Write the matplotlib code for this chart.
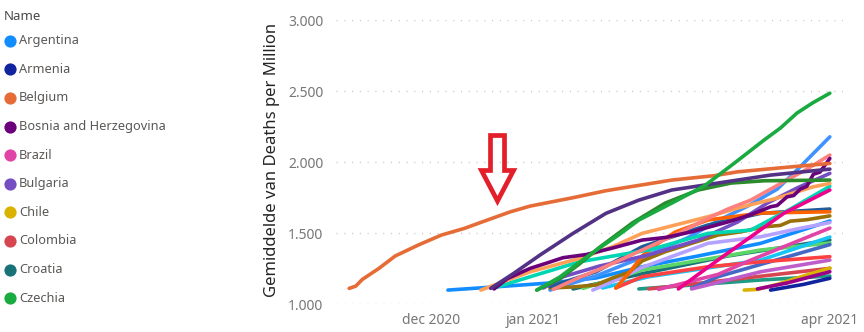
import matplotlib
matplotlib.use("Agg")
import matplotlib.pyplot as plt
import pandas as pd
from matplotlib.patches import Polygon
from matplotlib.lines import Line2D
from matplotlib.ticker import FuncFormatter

plt.rcParams['font.family'] = ['Noto Sans', 'DejaVu Sans']

# ---------------- data ----------------
argentina_d = ["2020-12-06", "2020-12-20", "2021-01-06", "2021-01-20", "2021-02-03", "2021-02-20", "2021-03-11", "2021-03-22", "2021-04-01"]
argentina_v = [1100, 1122, 1150, 1185, 1264, 1340, 1429, 1510, 1586]

armenia_d = ["2021-03-14", "2021-03-24", "2021-04-01"]
armenia_v = [1100, 1140, 1183]

belgium_d = ["2020-11-06", "2020-11-08", "2020-11-10", "2020-11-15", "2020-11-20", "2020-11-27", "2020-12-04", "2020-12-11",
             "2020-12-18", "2020-12-25", "2020-12-31", "2021-01-13", "2021-01-23", "2021-02-12", "2021-02-25", "2021-03-04",
             "2021-03-18", "2021-04-01"]
belgium_v = [1112, 1128, 1175, 1252, 1340, 1417, 1487, 1534, 1593, 1651, 1691, 1750, 1799, 1874, 1905, 1932, 1962, 1991]

bosnia_d = ["2020-12-20", "2020-12-24", "2020-12-31", "2021-01-05", "2021-01-10", "2021-01-17", "2021-01-25", "2021-02-03",
            "2021-02-10", "2021-02-18", "2021-03-01", "2021-03-08", "2021-03-14", "2021-03-16", "2021-03-19", "2021-03-21",
            "2021-03-23", "2021-03-25", "2021-03-27", "2021-03-29", "2021-04-01"]
bosnia_v = [1108, 1180, 1253, 1290, 1328, 1350, 1396, 1452, 1470, 1510, 1579, 1630, 1686, 1695, 1756, 1765, 1810, 1830,
            1915, 1930, 2026]

brazil_d = ["2021-02-08", "2021-02-26", "2021-03-08", "2021-03-18", "2021-04-01"]
brazil_v = [1105, 1210, 1311, 1405, 1536]

bulgaria_d = ["2021-01-04", "2021-01-10", "2021-01-21", "2021-02-05", "2021-02-20", "2021-03-04", "2021-03-13", "2021-03-22", "2021-04-01"]
bulgaria_v = [1115, 1194, 1269, 1347, 1452, 1579, 1712, 1818, 1921]

chile_d = ["2021-03-06", "2021-03-10", "2021-03-16", "2021-03-24", "2021-04-01"]
chile_v = [1100, 1105, 1140, 1199, 1255]

colombia_d = ["2021-02-05", "2021-03-01", "2021-04-01"]
colombia_v = [1108, 1171, 1253]

croatia_d = ["2021-01-13", "2021-02-03", "2021-03-01", "2021-04-01"]
croatia_v = [1108, 1215, 1340, 1452]

czechia_d = ["2021-01-02", "2021-01-09", "2021-01-15", "2021-01-21", "2021-01-27", "2021-02-02", "2021-02-12", "2021-02-22",
             "2021-03-03", "2021-03-12", "2021-03-17", "2021-03-22", "2021-03-27", "2021-04-01"]
czechia_v = [1100, 1192, 1297, 1396, 1490, 1593, 1712, 1835, 1993, 2155, 2240, 2345, 2420, 2485]

# further series (beyond the visible part of the legend)
uk_d = ["2020-12-19", "2020-12-26", "2021-01-03", "2021-01-13", "2021-01-23", "2021-02-02", "2021-02-12", "2021-02-22",
        "2021-03-04", "2021-03-14", "2021-04-01"]
uk_v = [1112, 1218, 1347, 1499, 1640, 1733, 1804, 1839, 1874, 1909, 1951]

liechtenstein_d = ["2021-01-02", "2021-01-09", "2021-01-15", "2021-01-21", "2021-01-31", "2021-02-10", "2021-02-20", "2021-03-02",
                   "2021-03-12", "2021-04-01"]
liechtenstein_v = [1100, 1180, 1285, 1400, 1572, 1712, 1804, 1853, 1869, 1874]

hungary_d = ["2021-01-06", "2021-01-20", "2021-02-03", "2021-02-17", "2021-02-27", "2021-03-07", "2021-03-16", "2021-03-22", "2021-04-01"]
hungary_v = [1100, 1200, 1330, 1470, 1600, 1690, 1810, 1944, 2178]

montenegro_d = ["2021-01-07", "2021-01-15", "2021-01-21", "2021-02-03", "2021-02-14", "2021-02-24", "2021-03-01", "2021-03-08",
                "2021-03-18", "2021-03-25", "2021-04-01"]
montenegro_v = [1105, 1190, 1246, 1382, 1500, 1616, 1670, 1733, 1862, 1950, 2050]

macedonia_d = ["2020-12-20", "2020-12-31", "2021-01-15", "2021-01-30", "2021-02-05", "2021-02-23", "2021-03-08", "2021-03-20", "2021-04-01"]
macedonia_v = [1115, 1194, 1299, 1359, 1382, 1499, 1522, 1670, 1830]

slovakia_d = ["2021-02-14", "2021-02-20", "2021-02-26", "2021-03-08", "2021-03-18", "2021-04-01"]
slovakia_v = [1108, 1210, 1311, 1475, 1640, 1804]

italy_d = ["2020-12-16", "2020-12-31", "2021-01-15", "2021-01-25", "2021-02-03", "2021-02-23", "2021-03-04", "2021-03-16",
           "2021-03-27", "2021-04-01"]
italy_v = [1100, 1229, 1323, 1405, 1499, 1616, 1677, 1747, 1827, 1850]

portugal_d = ["2021-01-26", "2021-01-30", "2021-02-03", "2021-02-08", "2021-02-13", "2021-02-23", "2021-03-11", "2021-04-01"]
portugal_v = [1115, 1220, 1340, 1431, 1508, 1593, 1642, 1651]

us_d = ["2021-01-06", "2021-01-20", "2021-02-03", "2021-02-23", "2021-03-11", "2021-04-01"]
us_v = [1124, 1229, 1405, 1558, 1640, 1670]

spain_d = ["2021-01-06", "2021-01-13", "2021-01-20", "2021-01-25", "2021-01-30", "2021-02-03", "2021-02-10", "2021-02-18",
           "2021-02-26", "2021-03-05", "2021-03-12", "2021-03-17", "2021-03-20", "2021-03-25", "2021-04-01"]
spain_v = [1115, 1122, 1136, 1185, 1225, 1305, 1370, 1429, 1487, 1510, 1545, 1555, 1585, 1595, 1622]

mexico_d = ["2021-01-19", "2021-01-27", "2021-02-03", "2021-02-23", "2021-03-11", "2021-03-22", "2021-04-01"]
mexico_v = [1100, 1180, 1260, 1429, 1475, 1530, 1575]

peru_d = ["2021-01-16", "2021-02-03", "2021-03-11", "2021-04-01"]
peru_v = [1112, 1241, 1382, 1431]

poland_d = ["2021-01-22", "2021-02-05", "2021-03-11", "2021-04-01"]
poland_v = [1115, 1194, 1311, 1473]

lithuania_d = ["2021-01-26", "2021-02-03", "2021-02-23", "2021-03-11", "2021-04-01"]
lithuania_v = [1115, 1194, 1264, 1299, 1335]

panama_d = ["2021-02-18", "2021-02-23", "2021-03-11", "2021-04-01"]
panama_v = [1108, 1136, 1229, 1311]

romania_d = ["2021-02-18", "2021-02-26", "2021-04-01"]
romania_v = [1112, 1194, 1420]

sweden_d = ["2021-02-02", "2021-03-11", "2021-04-01"]
sweden_v = [1108, 1171, 1199]

france_d = ["2021-03-10", "2021-03-19", "2021-04-01"]
france_v = [1108, 1150, 1229]

legend_names = ["Argentina", "Armenia", "Belgium", "Bosnia and Herzegovina", "Brazil",
                "Bulgaria", "Chile", "Colombia", "Croatia", "Czechia"]
legend_colors = ["#118DFF", "#12239E", "#E66C37", "#6B007B", "#E044A7",
                 "#744EC2", "#D9B300", "#D64550", "#197278", "#1AAB40"]

y_ticks = [1000, 1500, 2000, 2500, 3000]
x_tick_dates = ["2020-12-01", "2021-01-01", "2021-02-01", "2021-03-01", "2021-04-01"]
x_tick_labels = ["dec 2020", "jan 2021", "feb 2021", "mrt 2021", "apr 2021"]
x_range = ["2020-11-02", "2021-04-05"]
y_range = [1000, 3000]
y_title = "Gemiddelde van Deaths per Million"

# series in drawing order: (dates, values, colour)
series = [
    (argentina_d, argentina_v, "#118DFF"),
    (sweden_d, sweden_v, "#1F9A85"),
    (colombia_d, colombia_v, "#D64550"),
    (croatia_d, croatia_v, "#197278"),
    (peru_d, peru_v, "#5BD667"),
    (poland_d, poland_v, "#15C6F4"),
    (romania_d, romania_v, "#4668C5"),
    (panama_d, panama_v, "#BE5DC9"),
    (lithuania_d, lithuania_v, "#FF4141"),
    (brazil_d, brazil_v, "#E044A7"),
    (mexico_d, mexico_v, "#B5A1FF"),
    (hungary_d, hungary_v, "#4092FF"),
    (spain_d, spain_v, "#99700A"),
    (us_d, us_v, "#1F5C99"),
    (portugal_d, portugal_v, "#FF6300"),
    (bulgaria_d, bulgaria_v, "#744EC2"),
    (macedonia_d, macedonia_v, "#00D6B4"),
    (italy_d, italy_v, "#FFA058"),
    (montenegro_d, montenegro_v, "#FF8080"),
    (slovakia_d, slovakia_v, "#EC008C"),
    (bosnia_d, bosnia_v, "#6B007B"),
    (liechtenstein_d, liechtenstein_v, "#2B8A2B"),
    (uk_d, uk_v, "#533285"),
    (belgium_d, belgium_v, "#E66C37"),
    (czechia_d, czechia_v, "#1AAB40"),
    (chile_d, chile_v, "#D9B300"),
    (france_d, france_v, "#99008A"),
    (armenia_d, armenia_v, "#12239E"),
]

# ---------------- figure ----------------
W, H = 864, 332
fig = plt.figure(figsize=(W / 100, H / 100), dpi=100)
fig.patch.set_facecolor("white")


def fx(px):
    return px / W


def fy(py):
    return 1 - py / H


ax = fig.add_axes([fx(336), fy(304.3), fx(843) - fx(336), fy(20) - fy(304.3)])
ax.set_facecolor("white")

for d, v, c in series:
    ax.plot(pd.to_datetime(d), v, color=c, lw=2.6, solid_capstyle="round", solid_joinstyle="round", zorder=3)

ax.set_xlim(pd.to_datetime(x_range[0]), pd.to_datetime(x_range[1]))
ax.set_ylim(*y_range)
ax.set_yticks(y_ticks)
ax.yaxis.set_major_formatter(FuncFormatter(lambda v, p: f"{int(v):,}".replace(",", ".")))
ax.set_xticks(pd.to_datetime(x_tick_dates))
ax.set_xticklabels(x_tick_labels)

ax.grid(axis="y", color="#C8C8C8", lw=1.0, linestyle=(0, (0.8, 4.8)), zorder=0)
ax.grid(axis="x", visible=False)
for s in ax.spines.values():
    s.set_visible(False)
ax.tick_params(axis="both", length=0, labelsize=10, labelcolor="#777777")
ax.tick_params(axis="y", pad=9)
ax.tick_params(axis="x", pad=6)

fig.text(fx(272), fy(160), y_title, rotation=90, ha="center", va="center",
         fontsize=12, color="#252423")

# ---------------- legend ----------------
fig.text(fx(4), fy(17), "Name", ha="left", va="center", fontsize=9.5,
         fontweight="bold", color="#4A4A4A")
for i, (name, col) in enumerate(zip(legend_names, legend_colors)):
    yc = 40.7 + i * 28.6
    fig.add_artist(Line2D([fx(10.3)], [fy(yc)], marker="o", markersize=8.8, color=col,
                          markeredgewidth=0, transform=fig.transFigure))
    fig.text(fx(19), fy(yc), name, ha="left", va="center", fontsize=9.2, color="#5A5856")

# ---------------- annotation arrow ----------------
arrow_px = [(490.5, 135.5), (504.5, 135.5), (504.5, 170.5), (513.5, 170.5),
            (497.5, 201), (481.5, 170.5), (490.5, 170.5)]
arrow = Polygon([(fx(x), fy(y)) for x, y in arrow_px], closed=True, fill=False,
                edgecolor="#E3202A", lw=3.4, joinstyle="miter", transform=fig.transFigure)
fig.add_artist(arrow)

fig.savefig("out.png", dpi=100, facecolor="white")
